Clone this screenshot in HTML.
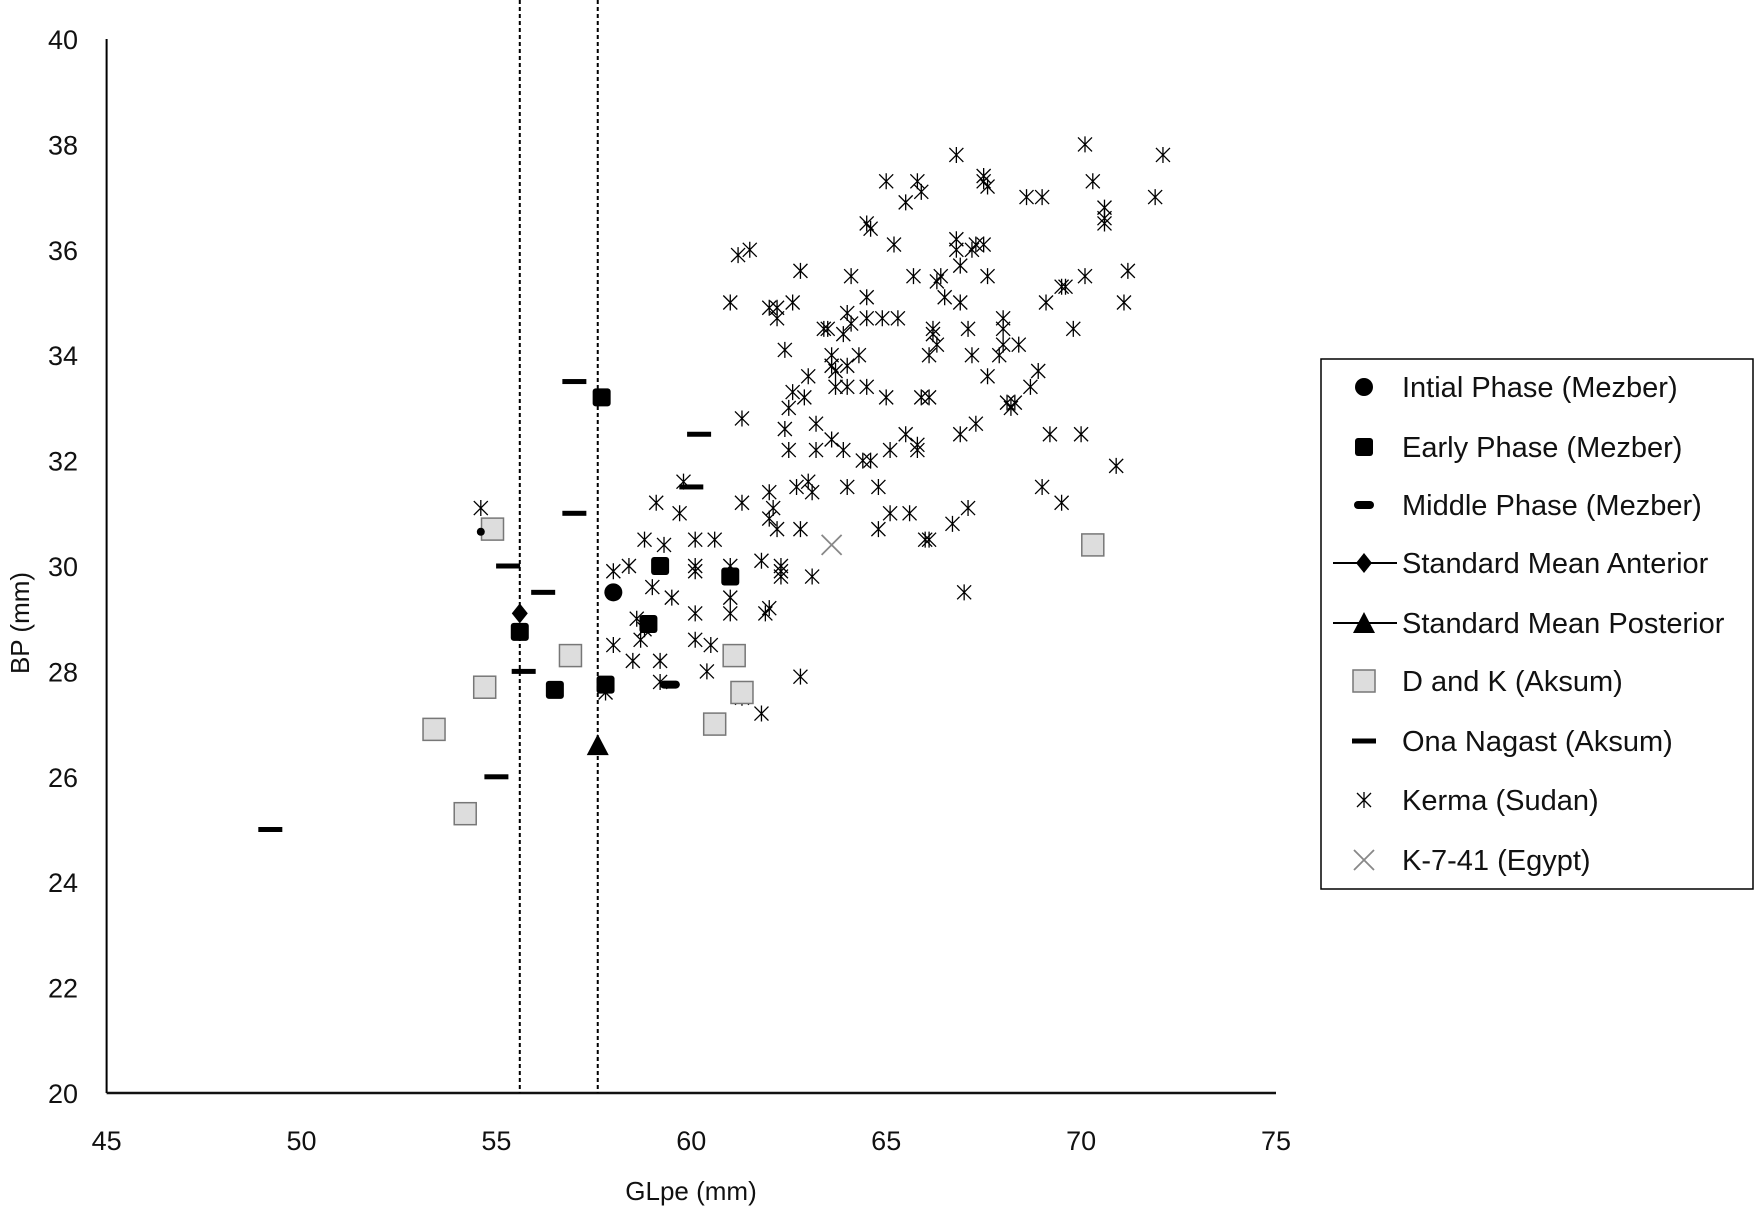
<!DOCTYPE html>
<html><head><meta charset="utf-8">
<style>
html,body{margin:0;padding:0;background:#fff;}
svg{display:block;font-family:"Liberation Sans",sans-serif;}
</style></head>
<body>
<svg id="chart" width="1760" height="1215" viewBox="0 0 1760 1215" xmlns="http://www.w3.org/2000/svg">
<g id="plot"></g>
<g id="legend"></g>
</svg>
<script>
const xTicks=[45,50,55,60,65,70,75];
const yTicks=[20,22,24,26,28,30,32,34,36,38,40];
const refLines=[55.6,57.6];
const initialX=[58.0,54.6];
const initialY=[29.5,30.65];
const earlyX=[57.7,59.2,61.0,58.9,55.6,56.5,57.8];
const earlyY=[33.2,30.0,29.8,28.9,28.75,27.65,27.75];
const middleX=[59.45];
const middleY=[27.75];
const anteriorX=[55.6];
const anteriorY=[29.1];
const posteriorX=[57.6];
const posteriorY=[26.6];
const dkX=[54.9,56.9,54.7,53.4,54.2,61.1,61.3,60.6,70.3];
const dkY=[30.7,28.3,27.7,26.9,25.3,28.3,27.6,27.0,30.4];
const onaX=[57.0,57.0,60.2,60.0,55.3,56.2,55.7,55.0,49.2];
const onaY=[33.5,31.0,32.5,31.5,30.0,29.5,28.0,26.0,25.0];
const egyptX=[63.6];
const egyptY=[30.4];
const kermaX=[54.6,58.0,58.4,58.8,59.1,59.3,59.0,59.5,58.6,58.8,58.7,58.0,58.5,59.2,59.2,57.8,59.7,59.8,60.1,60.1,60.1,60.1,60.1,60.4,60.5,60.6,61.0,61.0,61.0,61.0,61.3,61.3,61.3,61.5,61.2,61.8,61.8,61.9,62.0,62.0,62.0,62.1,62.2,62.3,62.3,62.3,62.2,62.0,62.2,62.4,62.4,62.5,62.5,62.6,62.6,62.7,62.8,62.8,62.8,62.9,63.0,63.0,63.1,63.1,63.2,63.2,63.4,63.5,63.6,63.6,63.6,63.7,63.9,64.0,64.0,64.0,64.1,64.1,64.0,64.3,64.4,64.5,64.5,64.5,64.5,64.6,64.6,64.8,64.8,64.9,65.0,65.0,65.1,65.1,65.2,65.3,65.5,65.5,65.6,65.7,65.8,65.8,65.9,65.8,65.9,66.0,66.1,66.1,66.1,66.2,66.2,66.3,66.3,66.4,66.5,66.7,66.8,66.8,66.9,66.9,66.9,67.0,67.1,67.2,67.3,67.1,67.2,67.3,67.5,67.6,67.6,67.5,66.8,67.5,67.6,67.9,68.0,68.0,68.0,68.1,68.2,68.3,68.4,68.6,69.0,68.7,68.9,69.0,69.1,69.2,69.5,69.5,69.6,69.8,70.0,70.1,70.1,70.3,70.6,70.6,70.6,70.9,71.1,71.2,72.1,71.9,63.9,63.7];
const kermaY=[31.1,29.9,30.0,30.5,31.2,30.4,29.6,29.4,29.0,28.8,28.6,28.5,28.2,28.2,27.8,27.6,31.0,31.6,30.5,30.0,29.9,29.1,28.6,28.0,28.5,30.5,29.4,29.1,30.0,35.0,27.5,32.8,31.2,36.0,35.9,27.2,30.1,29.1,29.2,30.9,31.4,31.1,30.7,30.0,29.9,29.8,34.9,34.9,34.7,34.1,32.6,33.0,32.2,33.3,35.0,31.5,27.9,35.6,30.7,33.2,33.6,31.6,31.4,29.8,32.2,32.7,34.5,34.5,32.4,34.0,33.8,33.4,32.2,31.5,33.4,33.8,34.6,35.5,34.8,34.0,32.0,33.4,35.1,34.7,36.5,36.4,32.0,30.7,31.5,34.7,33.2,37.3,31.0,32.2,36.1,34.7,36.9,32.5,31.0,35.5,32.3,32.2,33.2,37.3,37.1,30.5,30.5,33.2,34.0,34.4,34.5,34.2,35.4,35.5,35.1,30.8,36.2,36.0,35.7,35.0,32.5,29.5,31.1,34.0,32.7,34.5,36.0,36.1,37.3,35.5,33.6,36.1,37.8,37.4,37.2,34.0,34.7,34.5,34.2,33.1,33.0,33.1,34.2,37.0,37.0,33.4,33.7,31.5,35.0,32.5,31.2,35.3,35.3,34.5,32.5,38.0,35.5,37.3,36.8,36.6,36.5,31.9,35.0,35.6,37.8,37.0,34.4,33.7];

const NS='http://www.w3.org/2000/svg';
const X0=106.6,X1=1276,Y0=1093,Y1=39;
function sx(v){return X0+(v-45)/(75-45)*(X1-X0);}
function sy(v){return Y0-(v-20)/(40-20)*(Y0-Y1);}
function mk(tag,attrs,parent){const e=document.createElementNS(NS,tag);for(const k in attrs)e.setAttribute(k,attrs[k]);parent.appendChild(e);return e;}
const plot=document.getElementById('plot');
const legend=document.getElementById('legend');

let ax=mk('line',{x1:X0,y1:Y1,x2:X0,y2:Y0,stroke:'#000','stroke-width':2},plot);


let bx=mk('line',{x1:X0,y1:Y0,x2:X1,y2:Y0,stroke:'#111','stroke-width':2.5},plot);



yTicks.forEach(t=>{const e=mk('text',{x:78,y:sy(t)+10,'text-anchor':'end','font-size':27,fill:'#111'},plot);e.textContent=t;

});
xTicks.forEach(t=>{const e=mk('text',{x:sx(t),y:1150,'text-anchor':'middle','font-size':27,fill:'#111'},plot);e.textContent=t;

});
let xt=mk('text',{x:691,y:1200,'text-anchor':'middle','font-size':26,fill:'#111'},plot);xt.textContent='GLpe (mm)';


let yt=mk('text',{x:0,y:0,'text-anchor':'middle','font-size':26,fill:'#111',transform:'translate(29,623) rotate(-90)'},plot);yt.textContent='BP (mm)';



refLines.forEach(v=>{const e=mk('line',{x1:sx(v),y1:0,x2:sx(v),y2:Y0,stroke:'#000','stroke-width':2,'stroke-dasharray':'4,3'},plot);

});

function marker(type,cx,cy,g){
  switch(type){
    case 'circle': return mk('circle',{cx,cy,r:9,fill:'#000'},g);
    case 'smallcircle': return mk('circle',{cx,cy,r:4,fill:'#000'},g);
    case 'square': return mk('rect',{x:cx-9,y:cy-9,width:18,height:18,rx:3,fill:'#000'},g);
    case 'middle': return mk('rect',{x:cx-10,y:cy-4,width:20,height:8,rx:4,fill:'#000'},g);
    case 'diamond': return mk('polygon',{points:`${cx},${cy-10} ${cx+8},${cy} ${cx},${cy+10} ${cx-8},${cy}`,fill:'#000'},g);
    case 'triangle': return mk('polygon',{points:`${cx},${cy-11} ${cx+11},${cy+10} ${cx-11},${cy+10}`,fill:'#000'},g);
    case 'dk': return mk('rect',{x:cx-11,y:cy-11,width:22,height:22,fill:'#ddd',stroke:'#777','stroke-width':1.5},g);
    case 'dash': return mk('rect',{x:cx-12,y:cy-2.5,width:24,height:5,fill:'#000'},g);
    case 'kerma': return mk('path',{d:`M${cx-7},${cy-7}L${cx+7},${cy+7}M${cx+7},${cy-7}L${cx-7},${cy+7}M${cx},${cy-8}L${cx},${cy+8}`,stroke:'#000','stroke-width':1.3,fill:'none'},g);
    case 'cross': return mk('path',{d:`M${cx-10},${cy-10}L${cx+10},${cy+10}M${cx+10},${cy-10}L${cx-10},${cy+10}`,stroke:'#888','stroke-width':1.8,fill:'none'},g);
  }
}
function series(name,xs,ys,type){
  const g=mk('g',{},plot);
  
  
  xs.forEach((v,i)=>{let t=type;if(name==='initial-phase'&&i===1)t='smallcircle';
    const m=marker(t,sx(v),sy(ys[i]),g);
    
    });
}
series('kerma',kermaX,kermaY,'kerma');
series('ona-nagast',onaX,onaY,'dash');
series('d-and-k',dkX,dkY,'dk');
series('egypt',egyptX,egyptY,'cross');
series('initial-phase',initialX,initialY,'circle');
series('early-phase',earlyX,earlyY,'square');
series('middle-phase',middleX,middleY,'middle');
series('standard-mean-anterior',anteriorX,anteriorY,'diamond');
series('standard-mean-posterior',posteriorX,posteriorY,'triangle');

let lb=mk('rect',{x:1321,y:359,width:432,height:530,fill:'#fff',stroke:'#000','stroke-width':1.5},legend);


const legItems=[['Intial Phase (Mezber)','circle'],['Early Phase (Mezber)','square'],['Middle Phase (Mezber)','middle'],['Standard Mean Anterior','diamond'],['Standard Mean Posterior','triangle'],['D and K (Aksum)','dk'],['Ona Nagast (Aksum)','dash'],['Kerma (Sudan)','kerma'],['K-7-41 (Egypt)','cross']];
const legY=[387,447,505,563,623,681,741,800,860];
legItems.forEach((it,i)=>{
  const g=mk('g',{},legend);
  
  
  const cy=legY[i];
  if(it[1]==='diamond'||it[1]==='triangle')mk('line',{x1:1333,y1:cy,x2:1397,y2:cy,stroke:'#000','stroke-width':2},g);
  marker(it[1],1364,cy,g);
  const t=mk('text',{x:1402,y:cy+10,'font-size':29,fill:'#111'},g);t.textContent=it[0];
});
</script>
</body></html>
